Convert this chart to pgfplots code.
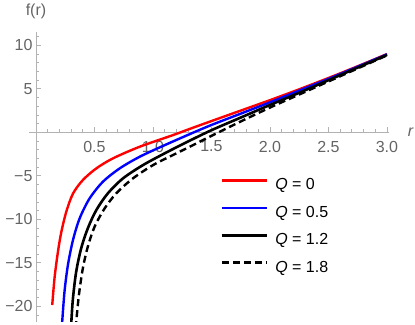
\documentclass[border=0pt]{standalone}
\usepackage{fontspec}
\setmainfont{Liberation Sans}
\usepackage{pgfplots}
\pgfplotsset{compat=1.18}
\definecolor{axgray}{RGB}{178,178,178}
\definecolor{lblgray}{RGB}{100,100,100}
\begin{document}
\begin{tikzpicture}
\useasboundingbox (0,0) rectangle (415pt,324pt);
\begin{axis}[
  at={(29.3pt,2pt)}, anchor=south west,
  scale only axis, width=360pt, height=290.2pt,
  xmin=-0.057, xmax=3.02, ymin=-21.8, ymax=11.56,
  axis lines=middle,
  axis line style={draw=axgray, line width=0.9pt, -},
  xtick={0.5,1,1.5,2,2.5,3},
  xticklabels={0.5,1.0,1.5,2.0,2.5,3.0},
  ytick={-20,-15,-10,-5,5,10},
  yticklabels={−20,−15,−10,−5,5,10},
  minor xtick={0.1,0.2,0.3,0.4,0.6,0.7,0.8,0.9,1.1,1.2,1.3,1.4,1.6,1.7,1.8,1.9,2.1,2.2,2.3,2.4,2.6,2.7,2.8,2.9},
  minor ytick={-21,-19,-18,-17,-16,-14,-13,-12,-11,-9,-8,-7,-6,-4,-3,-2,-1,1,2,3,4,6,7,8,9,11},
  tick align=inside,
  major tick length=5pt, minor tick length=3pt,
  every tick/.style={draw=axgray, line width=0.8pt},
  tick label style={font=\fontsize{16}{19}\selectfont, text=lblgray},
  xticklabel style={yshift=-5pt},
  xlabel={\textit{r}},
  ylabel={f(r)},
  every axis x label/.style={at={(current axis.right of origin)}, anchor=west, xshift=15pt, font=\fontsize{16}{19}\selectfont, text=lblgray},
  every axis y label/.style={at={(current axis.above origin)}, anchor=center, yshift=20pt, font=\fontsize{16}{19}\selectfont, text=lblgray},
  legend style={at={(0.531,0.497)}, anchor=north west, draw=none, fill=none, inner sep=0pt, row sep=11.4pt, column sep=7pt,
    nodes={inner sep=0pt, text height=12pt, text depth=4pt, font=\fontsize{16}{19}\selectfont, text=black}},
  legend cell align=left,
  legend image code/.code={\draw[#1] (0pt,5.5pt) -- (45pt,5.5pt);},
]
\addplot[red, line width=2.4pt, smooth, tension=0.5] coordinates {
(0.139,-19.85) (0.159,-16.7) (0.187,-13.8) (0.216,-11.5) (0.259,-9.13) (0.316,-7.05) (0.401,-5.48) (0.516,-4.14) (0.658,-2.99) (0.887,-1.65) (1.172,-0.31) (1.315,0.4) (1.5,1.3) (1.75,2.5) (2.0,3.7) (2.25,4.95) (2.5,6.25) (2.75,7.6) (3.0,9.0)};
\addlegendentry{\textit{Q} = 0}
\addplot[blue, line width=2.4pt, smooth, tension=0.5] coordinates {
(0.219,-22.7) (0.224,-21.8) (0.244,-18.3) (0.273,-15.25) (0.316,-12.4) (0.373,-9.9) (0.458,-7.6) (0.572,-5.68) (0.716,-4.14) (0.887,-2.8) (1.087,-1.55) (1.315,-0.2) (1.5,0.85) (1.75,2.15) (2.0,3.45) (2.25,4.8) (2.5,6.15) (2.75,7.55) (3.0,8.97)};
\addlegendentry{\textit{Q} = 0.5}
\addplot[black, line width=2.6pt, smooth, tension=0.5] coordinates {
(0.297,-22.7) (0.302,-21.8) (0.316,-19.1) (0.344,-16.0) (0.387,-13.3) (0.444,-11.0) (0.516,-8.93) (0.615,-7.0) (0.744,-5.29) (0.915,-3.76) (1.116,-2.3) (1.315,-0.95) (1.5,0.25) (1.75,1.7) (2.0,3.15) (2.25,4.55) (2.5,6.0) (2.75,7.45) (3.0,8.9)};
\addlegendentry{\textit{Q} = 1.2}
\addplot[black, line width=2.4pt, dash pattern=on 7pt off 4pt, smooth, tension=0.5] coordinates {
(0.339,-22.5) (0.344,-21.8) (0.367,-18.7) (0.401,-15.6) (0.444,-13.1) (0.501,-10.85) (0.587,-8.74) (0.687,-7.0) (0.829,-5.29) (1.001,-3.76) (1.172,-2.6) (1.315,-1.65) (1.5,-0.4) (1.75,1.25) (2.0,2.85) (2.25,4.35) (2.5,5.85) (2.75,7.35) (3.0,8.85)};
\addlegendentry{\textit{Q} = 1.8}
\end{axis}
\end{tikzpicture}
\end{document}
